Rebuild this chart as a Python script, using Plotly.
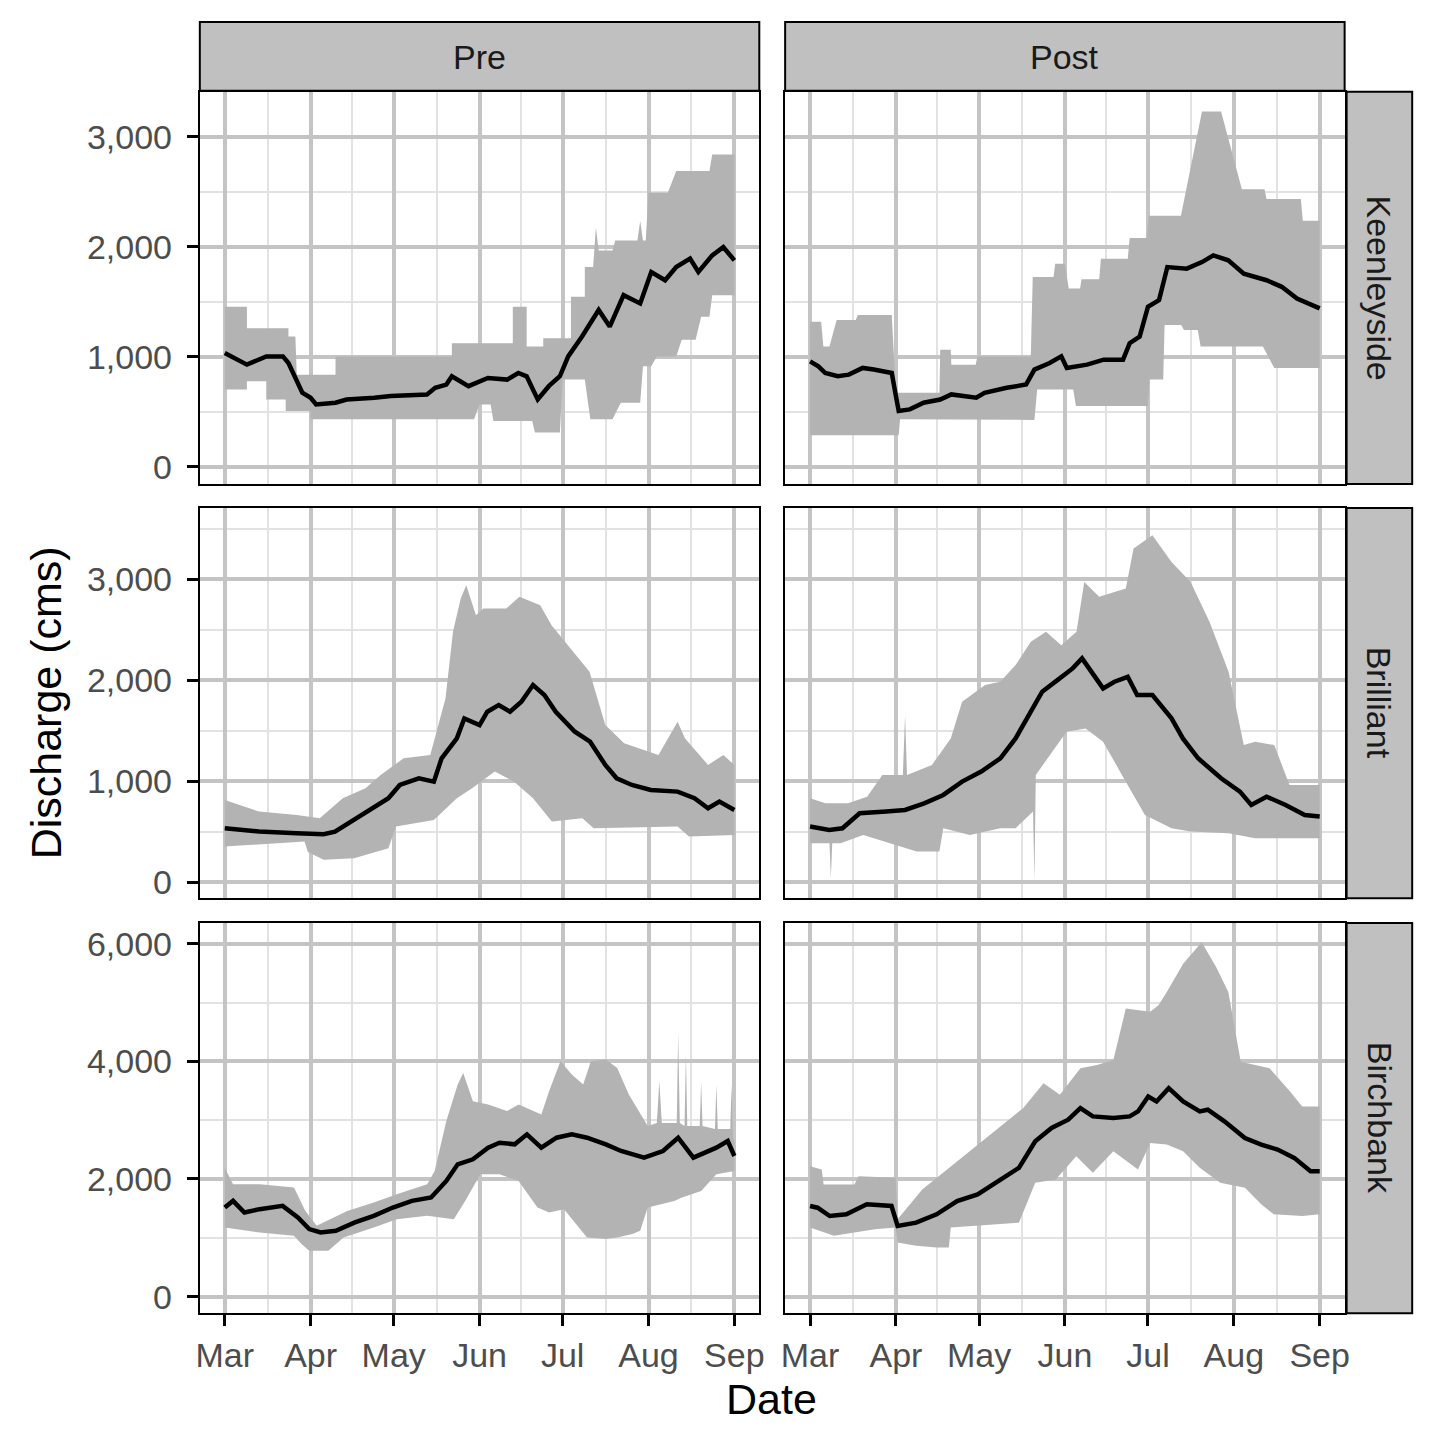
import numpy as np
import pandas as pd
import plotly.graph_objects as go
from plotly.subplots import make_subplots

# ── Data (days after 1 March; discharge in cms) ──────────────────────────────
# mean = black line, hi/lo = grey ribbon (max / min)

# Keenleyside, Pre
kp_mean_day = [0, 8, 15, 21, 23, 26, 28, 31, 33, 40, 44, 54, 60, 73, 76, 80, 82, 88, 95, 102,
               106, 109, 113, 117, 121, 124, 129, 135, 139, 144, 150, 154, 159, 163, 168, 171, 176, 180, 184]
kp_mean = [1033, 928, 1003, 1003, 943, 792, 672, 627, 566, 581, 611, 627, 642, 657, 717, 747, 822, 732, 807, 792,
           852, 822, 611, 732, 822, 1003, 1184, 1425, 1274, 1560, 1485, 1771, 1696, 1816, 1892, 1771, 1922, 1997, 1877]
kp_hi_day = [0, 8, 8, 23, 23, 25.5, 26, 40, 40, 82, 82, 104, 104, 109, 109, 115, 115, 125, 125, 130,
             130, 133, 134, 135, 140, 141, 149, 150, 151, 152, 153, 160, 163, 175, 176, 184]
kp_hi = [1455, 1455, 1259, 1259, 1184, 1184, 837, 837, 1003, 1003, 1123, 1123, 1455, 1455, 1093, 1093, 1169, 1169, 1545, 1545,
         1816, 1816, 2178, 1967, 1967, 2057, 2057, 2238, 2057, 2057, 2494, 2494, 2690, 2690, 2840, 2840]
kp_lo_day = [0, 8, 8, 15, 15, 22, 22, 31, 31, 90, 92, 96, 97, 111, 112, 121, 122, 130, 132, 140,
             143, 150, 151, 154, 156, 163, 165, 170, 172, 175, 176, 184]
kp_lo = [702, 702, 777, 777, 611, 611, 506, 506, 431, 431, 566, 566, 416, 416, 310, 310, 792, 792, 431, 431,
         581, 581, 913, 913, 1003, 1003, 1154, 1154, 1364, 1364, 1560, 1560]

# Keenleyside, Post
kq_mean_day = [0, 3, 5.5, 10, 14, 19, 23, 29.5, 31, 32, 36, 41, 47, 51, 60, 63, 71, 78, 81, 86.5,
               90.7, 92.7, 100, 106, 113, 115.4, 119, 122, 126, 129, 136, 141.5, 145.6, 151, 156.6, 164.8, 170.3, 175.8, 184]
kq_mean = [958, 913, 852, 822, 837, 898, 883, 852, 642, 506, 521, 581, 611, 657, 627, 672, 717, 747, 883, 943,
           1003, 898, 928, 973, 973, 1123, 1184, 1455, 1515, 1816, 1801, 1861, 1922, 1877, 1756, 1696, 1636, 1530, 1440]
kq_hi_day = [0, 4, 4.8, 7, 9.6, 16.5, 17.2, 29.5, 31, 46.7, 47, 50.8, 51, 59.8, 60.4, 79.7, 80.4, 87.9, 88.5, 92,
             93.4, 97.5, 98, 104.4, 105, 114.7, 115.4, 121.6, 122.3, 133.9, 141.5, 148.4, 155.9, 164.1, 164.8, 177.2, 177.9, 184]
kq_hi = [1319, 1319, 1093, 1093, 1334, 1334, 1380, 1380, 672, 672, 1063, 1063, 928, 928, 1003, 1003, 1726, 1726, 1846, 1846,
         1621, 1621, 1705, 1705, 1892, 1892, 2081, 2081, 2283, 2283, 3232, 3232, 2524, 2524, 2434, 2434, 2238, 2238]
kq_lo_day = [0, 32, 32.5, 47, 48, 81, 82, 95, 96, 122, 122.5, 127.5, 128, 134, 135, 140, 141, 163.5, 167.6, 184]
kq_lo = [286, 286, 431, 431, 425, 425, 702, 702, 551, 551, 792, 792, 1289, 1289, 1244, 1244, 1093, 1093, 898, 898]

# Brilliant, Pre
bp_mean_day = [0, 12.4, 26, 35.7, 39.8, 46.7, 53.6, 59.1, 63.2, 70.1, 75.5, 78.3, 83.8, 86.5, 92, 94.8, 98.9, 103, 107.1, 111.3,
               115.4, 119.5, 126.4, 131.9, 137.4, 141.5, 147, 153.8, 163.5, 169.6, 174.5, 178.6, 184]
bp_mean = [534, 501, 485, 475, 501, 617, 732, 831, 963, 1029, 996, 1227, 1424, 1622, 1556, 1688, 1754, 1688, 1787, 1952,
           1853, 1688, 1490, 1391, 1161, 1029, 963, 913, 897, 831, 732, 798, 715]
bp_hi_day = [0, 12.4, 26, 34.3, 42.6, 50.8, 56.3, 64.6, 74.2, 79.7, 82.4, 85.2, 87.2, 90.7, 93.4, 101.6, 106.4, 113.9, 118, 124.9,
             131.7, 137.4, 144.2, 156.6, 163.5, 166.2, 174.5, 180, 184]
bp_hi = [814, 699, 666, 633, 831, 930, 1062, 1227, 1260, 1820, 2479, 2809, 2941, 2644, 2710, 2710, 2826, 2743, 2545, 2314,
         2084, 1556, 1375, 1260, 1589, 1424, 1161, 1260, 1161]
bp_lo_day = [0, 28.8, 30, 35.7, 46.7, 59.1, 61.8, 75.5, 83.8, 89.3, 97.5, 104.4, 111.3, 118.1, 129.1, 133.2, 163.5, 167.6, 184]
bp_lo = [353, 402, 300, 221, 237, 336, 551, 617, 831, 930, 1095, 996, 831, 600, 633, 534, 551, 452, 468]

# Brilliant, Post
bq_mean_day = [0, 6.9, 11.7, 17.9, 27.5, 34.3, 41.2, 48.1, 54.9, 61.8, 68.7, 74.2, 79.7, 83.8, 89.3, 94.8, 98.2, 101.6, 105.8, 109.9,
               114.7, 118.1, 123.6, 130.5, 134.6, 140.1, 148.4, 155.2, 159.3, 164.8, 171.7, 178.6, 184]
bq_mean = [551, 518, 534, 682, 699, 715, 781, 864, 996, 1095, 1227, 1424, 1688, 1886, 2001, 2117, 2216, 2084, 1919, 1985,
           2034, 1853, 1853, 1622, 1424, 1227, 1029, 897, 765, 847, 765, 666, 650]
bq_hi_day = [0, 5.5, 13.7, 20.6, 26.1, 33.5, 34.3, 35, 44, 50.8, 54.9, 63.2, 68.7, 74.2, 79.7, 85.2, 90.7, 96.2, 99, 104.4,
             114, 116.8, 123.6, 130.5, 137.4, 144.2, 151.1, 156.6, 160.7, 167.6, 173.1, 184]
bq_hi = [831, 781, 781, 847, 1062, 1062, 1655, 1062, 1161, 1424, 1787, 1952, 1985, 2150, 2380, 2479, 2347, 2479, 2974, 2826,
         2908, 3304, 3436, 3172, 2974, 2578, 2084, 1358, 1391, 1358, 963, 963]
bq_lo_day = [0, 7, 7.5, 8, 11, 19.2, 38.5, 46.7, 48.1, 57.7, 68.7, 74.2, 80.5, 81, 81.5, 92.6, 99.5, 105.8, 112.6, 120.9,
             130.5, 137.4, 151.1, 160.7, 184]
bq_lo = [386, 386, 40, 386, 386, 468, 303, 303, 534, 468, 534, 534, 700, 13, 1062, 1491, 1523, 1391, 1062, 666,
         534, 501, 485, 435, 435]

# Birchbank, Pre
cp_mean_day = [0, 3, 7.1, 12.6, 20.9, 26.4, 30.5, 34.6, 40.1, 47, 53.8, 60.7, 67.6, 74.5, 80, 84.1, 89.6, 95.1, 99.2, 104.7,
               109.1, 114.3, 119.8, 125.3, 130.8, 137.6, 143.1, 151.4, 158.2, 163.7, 169.2, 177.5, 181.6, 184]
cp_mean = [1515, 1628, 1430, 1487, 1543, 1345, 1148, 1091, 1119, 1261, 1374, 1515, 1628, 1685, 1967, 2250, 2335, 2533, 2617, 2589,
           2759, 2533, 2702, 2759, 2702, 2589, 2476, 2363, 2476, 2702, 2363, 2533, 2646, 2391]
cp_hi_day = [0, 3, 12.6, 25, 29.1, 33.2, 44.2, 53.8, 62.1, 73.1, 75.8, 80, 84.1, 86.1, 89.6, 95.1, 101.9, 106.1, 114.3, 117.1,
             121.2, 125.3, 129.4, 132.2, 137.6, 141.7, 145.9, 150, 152.7, 156, 156.9, 157.8, 163.2, 163.7, 164.3, 166, 166.5, 167, 171.5, 172,
             172.5, 177, 177.5, 178, 182.5, 183, 183.5, 184]
cp_hi = [2193, 1911, 1911, 1854, 1458, 1204, 1458, 1600, 1741, 1911, 2137, 2985, 3607, 3804, 3324, 3267, 3154, 3267, 3098, 3494,
         4002, 3776, 3607, 4002, 4030, 3889, 3437, 3098, 2900, 2950, 3663, 2950, 2950, 4483, 2950, 2900, 4115, 2900, 2900, 3663,
         2900, 2850, 3607, 2850, 2850, 3607, 2700, 2646]
cp_lo_day = [0, 12.6, 25, 27.7, 30.5, 37.4, 42.9, 53.8, 62.1, 73.1, 82.7, 86.8, 92.3, 99.2, 106.1, 112.9, 117.1, 122.5, 130.8, 137.6,
             141.7, 147.2, 150, 152.7, 162.3, 165.1, 172, 177.5, 184]
cp_lo = [1176, 1091, 1034, 893, 780, 780, 1006, 1176, 1317, 1374, 1317, 1628, 2080, 2080, 1967, 1515, 1430, 1487, 1006, 978,
         1006, 1063, 1119, 1515, 1628, 1685, 1798, 2080, 2137]

# Birchbank, Post
cq_mean_day = [0, 2.7, 7.1, 13.1, 20.5, 29.4, 31.6, 38.3, 45.7, 53.1, 60.5, 68, 75.4, 81.3, 87.2, 93.2, 97.6, 102.1, 109.5, 115.4,
               118.4, 122.1, 125.1, 129.5, 134.7, 140.7, 143.6, 149.6, 157, 162.9, 168.8, 174.8, 180.7, 184]
cq_mean = [1541, 1512, 1371, 1400, 1569, 1541, 1202, 1258, 1400, 1625, 1738, 1964, 2190, 2641, 2867, 3008, 3205, 3064, 3036, 3064,
           3149, 3403, 3318, 3544, 3318, 3149, 3177, 2980, 2697, 2585, 2500, 2359, 2133, 2133]
cq_hi_day = [0, 4.2, 4.9, 16, 17.5, 30.9, 31.6, 40.5, 48.7, 57.6, 69.4, 76.9, 84.3, 90.2, 97.6, 103.6, 109.5, 114, 122.8, 125.8,
             128.8, 134.7, 141.4, 146.6, 151, 155.5, 165.9, 173.3, 177.7, 184]
cq_hi = [2218, 2161, 1907, 1907, 2048, 2020, 1315, 1823, 2133, 2472, 2923, 3205, 3629, 3431, 3883, 3939, 4024, 4898, 4842, 4955,
         5181, 5660, 6027, 5604, 5181, 3995, 3883, 3488, 3234, 3234]
cq_lo_day = [0, 8.6, 23.4, 30.9, 31.6, 38.3, 45.7, 50.1, 50.8, 60.5, 75.4, 81.3, 88.7, 96.1, 102.1, 109.5, 118.4, 122.8, 128.8, 134.7,
             140.7, 148.1, 157, 162.9, 167.4, 177.7, 184]
cq_lo = [1174, 1033, 1146, 1174, 920, 863, 835, 835, 1174, 1202, 1258, 1936, 1992, 2387, 2105, 2472, 2161, 2613, 2585, 2472,
         2190, 1936, 1851, 1569, 1400, 1371, 1400]

periods = ["Pre", "Post"]
sites = ["Keenleyside", "Brilliant", "Birchbank"]
panels = {
    (1, 1): (kp_mean_day, kp_mean, kp_hi_day, kp_hi, kp_lo_day, kp_lo),
    (1, 2): (kq_mean_day, kq_mean, kq_hi_day, kq_hi, kq_lo_day, kq_lo),
    (2, 1): (bp_mean_day, bp_mean, bp_hi_day, bp_hi, bp_lo_day, bp_lo),
    (2, 2): (bq_mean_day, bq_mean, bq_hi_day, bq_hi, bq_lo_day, bq_lo),
    (3, 1): (cp_mean_day, cp_mean, cp_hi_day, cp_hi, cp_lo_day, cp_lo),
    (3, 2): (cq_mean_day, cq_mean, cq_hi_day, cq_hi, cq_lo_day, cq_lo),
}

BASE = pd.Timestamp("2001-03-01")


def to_dates(days):
    return list(BASE + pd.to_timedelta(np.asarray(days, dtype=float), unit="D"))


# ── Figure ────────────────────────────────────────────────────────────────────
W = H = 1440
OFF = 8  # the page body adds an 8px margin; positions below are screen pixels
FONT = "Liberation Sans, Arial, sans-serif"
col_px = [(197, 760), (786, 1349)]
row_px = [(92, 485), (509, 900), (925, 1316)]
y_ranges = [(-158, 3410), (-158, 3706), (-283, 6351)]
y_dtick = [1000, 1000, 2000]


def px_x(p):
    return (p - OFF) / W


def px_y(p):
    return 1 - (p - OFF) / H


fig = make_subplots(rows=3, cols=2, shared_xaxes=True, shared_yaxes=True)

for (r, c), (md, mv, hd, hv, ld, lv) in panels.items():
    poly_x = to_dates(hd) + to_dates(ld)[::-1]
    poly_y = list(hv) + list(lv)[::-1]
    fig.add_trace(go.Scatter(x=poly_x, y=poly_y, mode="lines", fill="toself",
                             fillcolor="#B3B3B3", line=dict(width=0, color="#B3B3B3"),
                             hoverinfo="skip", showlegend=False), row=r, col=c)
    fig.add_trace(go.Scatter(x=to_dates(md), y=mv, mode="lines",
                             line=dict(color="black", width=4.5),
                             showlegend=False), row=r, col=c)

month_starts = pd.date_range("2001-03-01", "2001-09-01", freq="MS")
minor_x = [a + (b - a) / 2 for a, b in zip(month_starts[:-1], month_starts[1:])]
x_range = [BASE - pd.Timedelta(days=9), BASE + pd.Timedelta(days=193)]

for r in range(1, 4):
    for c in range(1, 3):
        x0, x1 = col_px[c - 1]
        y0, y1 = row_px[r - 1]
        fig.update_xaxes(
            row=r, col=c, domain=[px_x(x0), px_x(x1)], range=x_range,
            tickmode="array", tickvals=list(month_starts), tickformat="%b",
            showticklabels=(r == 3), ticks="outside" if r == 3 else "",
            ticklen=11, tickwidth=2.5, tickcolor="black", ticklabelstandoff=0,
            tickfont=dict(family=FONT, size=34, color="#4D4D4D"),
            showgrid=True, gridcolor="#C4C4C4", gridwidth=3.5,
            minor=dict(tickmode="array", tickvals=minor_x, showgrid=True,
                       gridcolor="#E2E2E2", gridwidth=1.8),
            showline=True, mirror=True, linecolor="black", linewidth=2,
            zeroline=False,
        )
        lo, hi = y_ranges[r - 1]
        fig.update_yaxes(
            row=r, col=c, domain=[px_y(y1), px_y(y0)], range=[lo, hi],
            tickmode="linear", tick0=0, dtick=y_dtick[r - 1], tickformat=",d",
            showticklabels=(c == 1), ticks="outside" if c == 1 else "",
            ticklen=11, tickwidth=2.5, tickcolor="black", ticklabelstandoff=8,
            tickfont=dict(family=FONT, size=34, color="#4D4D4D"),
            showgrid=True, gridcolor="#C4C4C4", gridwidth=3.5,
            minor=dict(dtick=y_dtick[r - 1] / 2, tick0=0, showgrid=True,
                       gridcolor="#E2E2E2", gridwidth=1.8),
            showline=True, mirror=True, linecolor="black", linewidth=2,
            zeroline=False,
        )

# strips
shapes, annotations = [], []
for (x0, x1), label in zip(col_px, periods):
    shapes.append(dict(type="rect", xref="paper", yref="paper",
                       x0=px_x(x0), x1=px_x(x1), y0=px_y(91), y1=px_y(22),
                       fillcolor="#C0C0C0", line=dict(color="black", width=2)))
    annotations.append(dict(text=label, xref="paper", yref="paper",
                            x=px_x((x0 + x1) / 2), y=px_y(57),
                            xanchor="center", yanchor="middle", showarrow=False,
                            font=dict(family=FONT, size=34, color="#1A1A1A")))
for (y0, y1), label in zip(row_px, sites):
    shapes.append(dict(type="rect", xref="paper", yref="paper",
                       x0=px_x(1351), x1=px_x(1417), y0=px_y(y1), y1=px_y(y0),
                       fillcolor="#C0C0C0", line=dict(color="black", width=2)))
    annotations.append(dict(text=label, xref="paper", yref="paper", textangle=90,
                            x=px_x(1384), y=px_y((y0 + y1) / 2),
                            xanchor="center", yanchor="middle", showarrow=False,
                            font=dict(family=FONT, size=34, color="#1A1A1A")))

annotations.append(dict(text="Date", xref="paper", yref="paper",
                        x=px_x(772), y=px_y(1402), xanchor="center", yanchor="middle",
                        showarrow=False, font=dict(family=FONT, size=43, color="black")))
annotations.append(dict(text="Discharge (cms)", xref="paper", yref="paper", textangle=-90,
                        x=px_x(42), y=px_y(704), xanchor="center", yanchor="middle",
                        showarrow=False, font=dict(family=FONT, size=43, color="black")))

fig.update_layout(
    width=W, height=H, autosize=False,
    margin=dict(l=0, r=0, t=0, b=0, pad=0),
    paper_bgcolor="white", plot_bgcolor="white",
    shapes=shapes, annotations=annotations,
    showlegend=False,
)

fig.write_html("out.html")
